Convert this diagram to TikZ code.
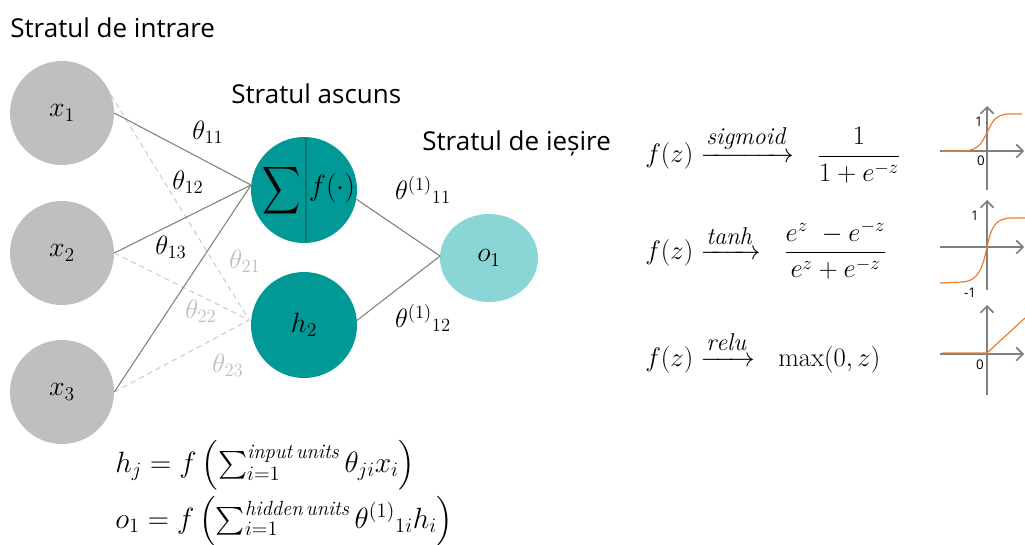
\RequirePackage{fix-cm}
\documentclass[tikz,border=0pt]{standalone}
\usepackage{amsmath}
\usepackage{fontspec}
\setsansfont{Open Sans}
\usetikzlibrary{arrows.meta,calc,shapes.geometric}
\definecolor{cgray}{RGB}{191,191,191}
\definecolor{cteal}{RGB}{0,153,150}
\definecolor{cdteal}{RGB}{0,120,118}
\definecolor{clteal}{RGB}{138,213,213}
\definecolor{cline}{RGB}{128,128,128}
\definecolor{cdash}{RGB}{205,205,205}
\definecolor{clab}{RGB}{190,190,190}
\definecolor{corange}{RGB}{237,125,49}
\definecolor{caxis}{RGB}{128,128,128}
\newcommand{\arrlab}[1]{\scalebox{1.3}{$\scriptstyle\mathit{#1}$}}
\tikzset{
  neuron/.style={circle,inner sep=0pt,minimum size=104pt*0.75},
  innode/.style={neuron,fill=cgray,font=\fontsize{21}{24}\selectfont},
  hidnode/.style={neuron,fill=cteal,minimum size=106pt*0.75,font=\fontsize{21}{24}\selectfont},
  outnode/.style={ellipse,inner sep=0pt,minimum width=98pt*0.75,minimum height=88pt*0.75,fill=clteal,font=\fontsize{21}{24}\selectfont},
  solidw/.style={draw=cline,line width=0.8pt},
  dashw/.style={draw=cdash,line width=0.8pt,dash pattern=on 4pt off 3pt},
  title/.style={font=\sffamily\fontsize{19.5}{22}\selectfont,inner sep=0pt,anchor=west},
  wlab/.style={font=\fontsize{20}{24}\selectfont,inner sep=0pt},
  lwlab/.style={wlab,text=clab},
  axisline/.style={draw=caxis,line width=1.2pt,-{Straight Barb[length=5pt,width=10pt]}},
  curve/.style={draw=corange,line width=0.9pt},
  tick/.style={font=\sffamily\fontsize{10}{12}\selectfont,inner sep=0pt},
  eq/.style={font=\fontsize{20}{24}\selectfont,inner sep=0pt,anchor=west},
  beq/.style={font=\fontsize{22}{26}\selectfont,inner sep=0pt,anchor=west}
}
\begin{document}
\begin{tikzpicture}[x=0.75pt,y=-0.75pt]
\useasboundingbox (0,0) rectangle (1025,544);
% titles
\node[title] (t1) at (10,28) {Stratul de intrare};
\node[title] (t2) at (231,94) {Stratul ascuns};
\node[title] (t3) at (422,143) {Stratul de ieșire};
% nodes
\node[innode] (x1) at (62,113) {$x_1$};
\node[innode] (x2) at (62,253) {$x_2$};
\node[innode] (x3) at (62,392) {$x_3$};
\node[hidnode] (h1) at (304,190) {};
\node[hidnode] (h2) at (304,325) {$h_2$};
\node[outnode] (o1) at (489,258) {$o_1$};
\draw[cdteal,line width=1pt] ($(h1.north)+(2,1)$) -- ($(h1.south)+(2,-1)$);
\node[inner sep=0pt] (sig) at (282,191) {\fontsize{30}{34}\selectfont\scalebox{0.8}[1]{$\displaystyle\sum$}};
\node[inner sep=0pt] (fdot) at (332,188) {\fontsize{22}{26}\selectfont$f(\cdot)$};
% connectors
\coordinate (h1in) at (251,185);
\coordinate (h2in) at (249,320);
\coordinate (o1in) at (440,256);
\draw[dashw] (x1.20) -- (h2in);
\draw[dashw] (x2.east) -- (h2in);
\draw[dashw] (x3.east) -- (h2in);
\draw[solidw] (x1.east) -- (h1in);
\draw[solidw] (x2.east) -- (h1in);
\draw[solidw] (x3.east) -- (h1in);
\draw[solidw] (h1.-10) -- (o1in);
\draw[solidw] (h2.5) -- (o1in);
% weight labels
\node[wlab] (w11) at (208,132) {$\theta_{11}$};
\node[wlab] (w12) at (188,182) {$\theta_{12}$};
\node[wlab] (w13) at (171,247) {$\theta_{13}$};
\node[lwlab] (w21) at (245,261) {$\theta_{21}$};
\node[lwlab] (w22) at (201,311) {$\theta_{22}$};
\node[lwlab] (w23) at (228,365) {$\theta_{23}$};
\node[wlab] (v11) at (423,190) {${\theta^{(1)}}_{11}$};
\node[wlab] (v12) at (423,318) {${\theta^{(1)}}_{12}$};
% activation formulas
\node[eq] (e1) at (645,154) {$f(z)\xrightarrow{\arrlab{sigmoid}}\ \ \dfrac{1}{1+e^{-z}}$};
\node[eq] (e2) at (645,250) {$f(z)\xrightarrow{\arrlab{tanh}}\ \ \dfrac{e^{z}\ -e^{-z}}{e^{z}+e^{-z}}$};
\node[eq] (e3) at (645,352) {$f(z)\xrightarrow{\arrlab{relu}}\ \ \max(0,z)$};
% sigmoid plot
\draw[axisline] (987,190) -- (987,106);
\draw[axisline] (940,151) -- (1024,151);
\draw[curve] (942,151) -- (962,151) .. controls (980,151) and (982,141) .. (987,133) .. controls (992,122) and (995,114) .. (1010,114) -- (1022,114);
\node[tick] (s1) at (979,122) {1};
\node[tick] (s0) at (981,161) {0};
% tanh plot
\draw[axisline] (987,290) -- (987,200);
\draw[axisline] (940,247) -- (1024,247);
\draw[curve] (940,283) -- (962,282) .. controls (980,281) and (983,265) .. (987,247) .. controls (991,229) and (994,218) .. (1012,218) -- (1025,218);
\node[tick] (t1a) at (975,216) {1};
\node[tick] (tm1) at (970,293) {-1};
% relu plot
\draw[axisline] (987,395) -- (987,305);
\draw[axisline] (940,354) -- (1024,354);
\draw[curve] (942,353) -- (987,353) -- (1025,318);
\node[tick] (r0) at (980,365) {0};
% bottom formulas
\node[beq] (f1) at (115,465) {$h_j = f\left(\textstyle\sum_{i=1}^{\mathit{input\,units}}\theta_{ji}x_i\right)$};
\node[beq] (f2) at (115,521) {$o_1 = f\left(\textstyle\sum_{i=1}^{\mathit{hidden\,units}}{\theta^{(1)}}_{1i}h_i\right)$};
\end{tikzpicture}
\end{document}
